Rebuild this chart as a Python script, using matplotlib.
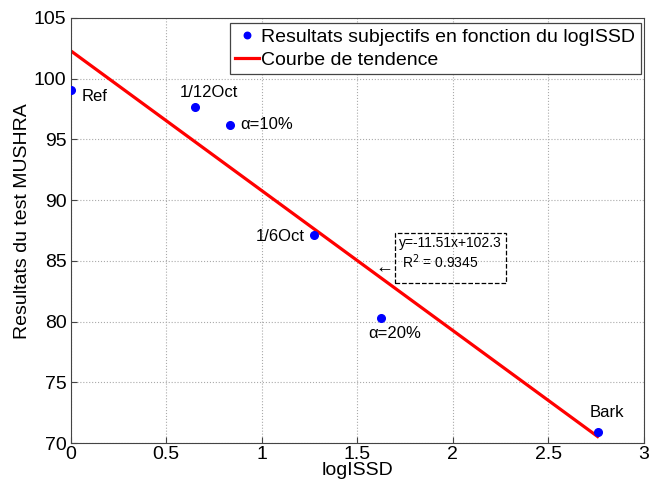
import numpy as np
import matplotlib
matplotlib.use("Agg")
import matplotlib.pyplot as plt
from matplotlib.patches import Rectangle

plt.rcParams["font.family"] = ["Liberation Sans", "DejaVu Sans"]

# measured points (logISSD, MUSHRA score)
labels = ["Ref", "1/12Oct", "\u03b1=10%", "1/6Oct", "\u03b1=20%", "Bark"]
log_issd = [0.0, 0.65, 0.836, 1.273, 1.626, 2.758]
mushra = [99.1, 97.7, 96.2, 87.1, 80.3, 70.9]

# trend line y = a*x + b
slope = -11.51
intercept = 102.3
r2 = 0.9345

xticks = [0, 0.5, 1, 1.5, 2, 2.5, 3]
xticklabels = ["0", "0.5", "1", "1.5", "2", "2.5", "3"]
yticks = [70, 75, 80, 85, 90, 95, 100, 105]

fig = plt.figure(figsize=(6.49, 4.86), dpi=100)
ax = fig.add_axes([0.109, 0.088, 0.883, 0.875])

x_fit = np.array([min(log_issd), max(log_issd)])
ax.plot(log_issd, mushra, "o", color="#0000ff", markersize=5.5,
        label="Resultats subjectifs en fonction du logISSD", zorder=3)
ax.plot(x_fit, slope * x_fit + intercept, color="#ff0000", lw=2.3,
        label="Courbe de tendence", zorder=2)

# point labels: (x, y, ha)
label_pos = [
    (0.055, 98.5, "left"),
    (0.57, 98.9, "left"),
    (0.888, 96.2, "left"),
    (1.225, 87.0, "right"),
    (1.557, 79.0, "left"),
    (2.717, 72.5, "left"),
]
for lab, (tx, ty, ha) in zip(labels, label_pos):
    ax.text(tx, ty, lab, ha=ha, va="center", fontsize=12)

# equation box
ax.add_patch(Rectangle((1.70, 83.16), 0.58, 4.17, fill=False, ec="black",
                       ls="--", lw=0.9, zorder=4))
ax.text(1.718, 86.5, "y=%.2fx+%.1f" % (slope, intercept),
        ha="left", va="center", fontsize=10)
ax.text(1.735, 84.95, "R$^2$ = %.4f" % r2, ha="left", va="center", fontsize=10)
ax.text(1.644, 84.42, "\u2190", ha="center", va="center", fontsize=13)

ax.set_xlim(0, 3)
ax.set_ylim(70, 105)
ax.set_xticks(xticks)
ax.set_xticklabels(xticklabels)
ax.set_yticks(yticks)
ax.tick_params(direction="in", length=4, labelsize=14, pad=2,
               color="#444444")
ax.tick_params(axis="y", pad=3)
ax.grid(True, ls=":", color="#aaaaaa", lw=0.8)
for sp in ax.spines.values():
    sp.set_color("#444444")

ax.set_xlabel("logISSD", fontsize=14, labelpad=-1)
ax.set_ylabel("Resultats du test MUSHRA", fontsize=14)
ax.yaxis.set_label_coords(-0.069, 0.522)

leg = ax.legend(loc="upper right", bbox_to_anchor=(0.9943, 0.989),
                fontsize=14, handlelength=1.2, handletextpad=0.1,
                borderaxespad=0, fancybox=False, framealpha=1,
                edgecolor="#444444", borderpad=0.3, labelspacing=0.25,
                markerscale=0.85)
leg.get_frame().set_linewidth(0.9)

fig.savefig("out.png", dpi=100)
